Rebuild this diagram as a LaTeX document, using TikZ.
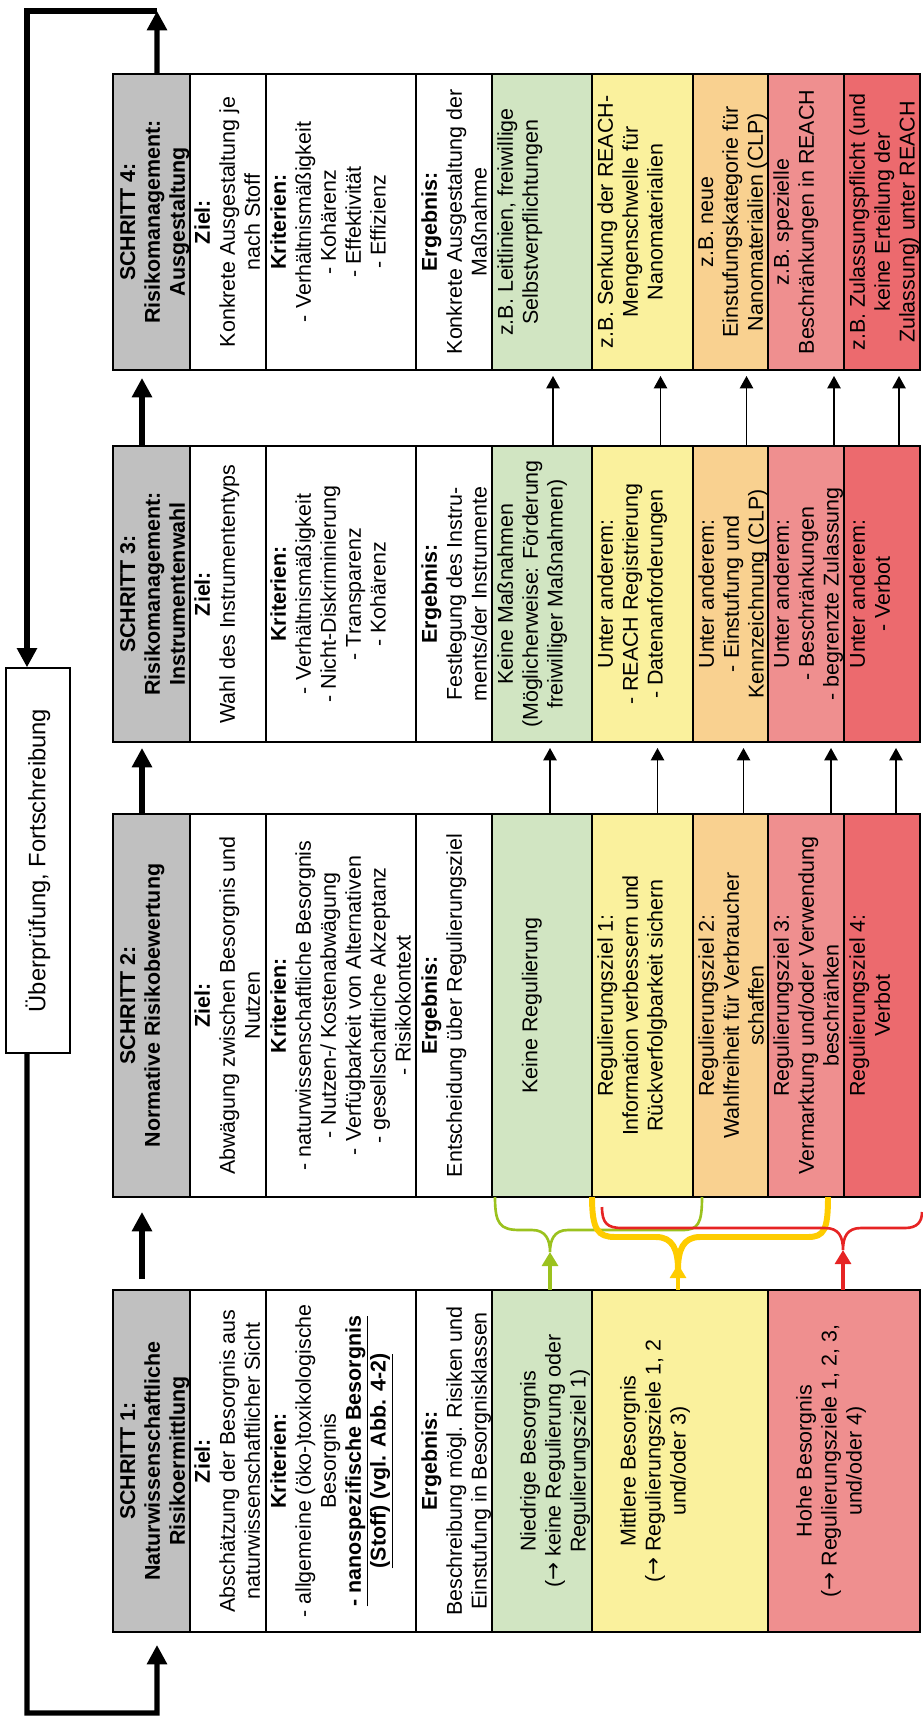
\documentclass[tikz,border=0pt]{standalone}
\usepackage{fontspec}
\setmainfont{Liberation Sans}
\newfontfamily\arrowfont{DejaVu Sans}
\usepackage{xcolor}
\usepackage{tikz}
\usetikzlibrary{calc, arrows.meta, positioning}

\definecolor{hdrgray}{RGB}{192,192,192}
\definecolor{lvgreen}{RGB}{209,229,194}
\definecolor{lvyellow}{RGB}{250,241,157}
\definecolor{lvorange}{RGB}{249,209,144}
\definecolor{lvpink}{RGB}{239,143,143}
\definecolor{lvred}{RGB}{236,106,110}
\definecolor{brgreen}{RGB}{155,194,30}
\definecolor{bryellow}{RGB}{254,204,0}
\definecolor{brred}{RGB}{230,36,36}

\begin{document}
\begin{tikzpicture}[
            x=0.02cm, y=-0.02cm,
            font=\fontsize{12.2}{14.2}\selectfont,
            cell/.style n args={3}{draw, line width=1pt, rotate=90, inner sep=0pt, outer sep=0pt,
                minimum width=#1, minimum height=#2,
                execute at begin node={\begin{minipage}[c][#2][t]{#1}\centering\vspace*{#3}},
                execute at end node={\end{minipage}}},
            headbox/.style={cell={#1}{1.54cm}{4pt}, fill=hdrgray, font=\fontsize{12.2}{14.2}\selectfont\bfseries},
            zielbox/.style={cell={#1}{1.52cm}{2.5pt}, fill=white},
            kritbox/.style={cell={#1}{3cm}{2.5pt}, fill=white},
            ergbox/.style={cell={#1}{1.52cm}{3pt}, fill=white},
            greenbox/.style={cell={#1}{2cm}{3pt}, fill=lvgreen},
            yellowbox/.style={cell={#1}{2.02cm}{3pt}, fill=lvyellow},
            orangebox/.style={cell={#1}{1.5cm}{3pt}, fill=lvorange},
            pinkbox/.style={cell={#1}{1.52cm}{3pt}, fill=lvpink},
            redbox/.style={cell={#1}{1.52cm}{3pt}, fill=lvred},
            revbox/.style={draw, line width=0.8pt, fill=white, rotate=90, inner sep=0pt,
                minimum width=7.7cm, minimum height=1.28cm, font=\fontsize{13.5}{16}\selectfont},
            bigarrow/.style={line width=3pt, -{Triangle[length=11pt, width=11pt]}},
            thinarrow/.style={line width=1pt, -{Triangle[length=7pt, width=7.5pt]}},
            brace/.style={line width=1.5pt},
            bracearrow/.style={line width=2.8pt, -{Triangle[length=8pt, width=9pt]}}
        ]
        \useasboundingbox (0,0) rectangle (922,1719);

        % Schritt 4
        \node[headbox=5.92cm] (s4h) at (151.5, 222) {SCHRITT 4:\\Risikomanagement:\\Ausgestaltung};
        \node[zielbox=5.92cm] (s4z) at (228, 222) {\textbf{Ziel:}\\Konkrete Ausgestaltung je\\nach Stoff};
        \node[kritbox=5.92cm] (s4k) at (341, 222) {\textbf{Kriterien:}\\- Verhältnismäßigkeit\\- Kohärenz\\- Effektivität\\- Effizienz};
        \node[ergbox=5.92cm] (s4e) at (454, 222) {\textbf{Ergebnis:}\\Konkrete Ausgestaltung der\\Maßnahme};
        \node[greenbox=5.92cm] (s4g) at (542, 222) {z.B. Leitlinien, freiwillige\\Selbstverpflichtungen};
        \node[yellowbox=5.92cm] (s4y) at (642.5, 222) {z.B. Senkung der REACH-\\Mengenschwelle für\\Nanomaterialien};
        \node[orangebox=5.92cm] (s4o) at (730.5, 222) {z.B. neue\\Einstufungskategorie für\\Nanomaterialien (CLP)};
        \node[pinkbox=5.92cm] (s4p) at (806, 222) {z.B. spezielle\\Beschränkungen in REACH};
        \node[redbox=5.92cm] (s4r) at (882, 222) {z.B. Zulassungspflicht (und\\keine Erteilung der\\Zulassung) unter REACH};

        % Schritt 3
        \node[headbox=5.92cm] (s3h) at (151.5, 594) {SCHRITT 3:\\Risikomanagement:\\Instrumentenwahl};
        \node[zielbox=5.92cm] (s3z) at (228, 594) {\textbf{Ziel:}\\Wahl des Instrumententyps};
        \node[kritbox=5.92cm] (s3k) at (341, 594) {\textbf{Kriterien:}\\- Verhältnismäßigkeit\\- Nicht-Diskriminierung\\- Transparenz\\- Kohärenz};
        \node[ergbox=5.92cm] (s3e) at (454, 594) {\textbf{Ergebnis:}\\Festlegung des Instru-\\ments/der Instrumente};
        \node[greenbox=5.92cm] (s3g) at (542, 594) {Keine Maßnahmen\\(Möglicherweise: Förderung\\freiwilliger Maßnahmen)};
        \node[yellowbox=5.92cm] (s3y) at (642.5, 594) {Unter anderem:\\- REACH Registrierung\\- Datenanforderungen};
        \node[orangebox=5.92cm] (s3o) at (730.5, 594) {Unter anderem:\\- Einstufung und\\Kennzeichnung (CLP)};
        \node[pinkbox=5.92cm] (s3p) at (806, 594) {Unter anderem:\\- Beschränkungen\\- begrenzte Zulassung};
        \node[redbox=5.92cm] (s3r) at (882, 594) {Unter anderem:\\- Verbot};

        % Schritt 2
        \node[headbox=7.66cm] (s2h) at (151.5, 1005.5) {SCHRITT 2:\\Normative Risikobewertung};
        \node[zielbox=7.66cm] (s2z) at (228, 1005.5) {\textbf{Ziel:}\\Abwägung zwischen Besorgnis und\\Nutzen};
        \node[kritbox=7.66cm] (s2k) at (341, 1005.5) {\textbf{Kriterien:}\\- naturwissenschaftliche Besorgnis\\- Nutzen-/ Kostenabwägung\\- Verfügbarkeit von Alternativen\\- gesellschaftliche Akzeptanz\\- Risikokontext};
        \node[ergbox=7.66cm] (s2e) at (454, 1005.5) {\textbf{Ergebnis:}\\Entscheidung über Regulierungsziel};
        \node[cell={7.66cm}{2cm}{17pt}, fill=lvgreen] (s2g) at (542, 1005.5) {Keine Regulierung};
        \node[yellowbox=7.66cm] (s2y) at (642.5, 1005.5) {Regulierungsziel 1:\\Information verbessern und\\Rückverfolgbarkeit sichern};
        \node[orangebox=7.66cm] (s2o) at (730.5, 1005.5) {Regulierungsziel 2:\\Wahlfreiheit für Verbraucher\\schaffen};
        \node[pinkbox=7.66cm] (s2p) at (806, 1005.5) {Regulierungsziel 3:\\Vermarktung und/oder Verwendung\\beschränken};
        \node[redbox=7.66cm] (s2r) at (882, 1005.5) {Regulierungsziel 4:\\Verbot};

        % Schritt 1
        \node[headbox=6.84cm] (s1h) at (151.5, 1461) {SCHRITT 1:\\Naturwissenschaftliche\\Risikoermittlung};
        \node[zielbox=6.84cm] (s1z) at (228, 1461) {\textbf{Ziel:}\\Abschätzung der Besorgnis aus\\naturwissenschaftlicher Sicht};
        \node[kritbox=6.84cm] (s1k) at (341, 1461) {\textbf{Kriterien:}\\- allgemeine (öko-)toxikologische\\Besorgnis\\\textbf{\underline{- nanospezifische Besorgnis}}\\\textbf{\underline{(Stoff) (vgl. Abb. 4-2)}}};
        \node[ergbox=6.84cm] (s1e) at (454, 1461) {\textbf{Ergebnis:}\\Beschreibung mögl. Risiken und\\Einstufung in Besorgnisklassen};
        \node[cell={6.84cm}{2cm}{16pt}, fill=lvgreen] (s1g) at (542, 1461) {Niedrige Besorgnis\\({\arrowfont →} keine Regulierung oder\\Regulierungsziel 1)};
        \node[cell={6.84cm}{3.52cm}{16pt}, fill=lvyellow] (s1y) at (680, 1461) {Mittlere Besorgnis\\({\arrowfont →} Regulierungsziele 1, 2\\und/oder 3)};
        \node[cell={6.84cm}{3.04cm}{16pt}, fill=lvpink] (s1p) at (844, 1461) {Hohe Besorgnis\\({\arrowfont →} Regulierungsziele 1, 2, 3,\\und/oder 4)};

        % Rueckkopplung
        \node[revbox] (rev) at (38, 860.5) {Überprüfung, Fortschreibung};
        \coordinate (looptr) at (157, 11);
        \coordinate (looptl) at (27, 11);
        \coordinate (loopbl) at (27, 1713);
        \coordinate (loopbr) at (157, 1713);

        \draw[bigarrow] ([xshift=0.11cm]s4h.east) -- (looptr);
        \draw[bigarrow] (looptr) -- (looptl) -- (looptl |- rev.east);
        \draw[bigarrow, shorten >=0.26cm] (rev.west -| looptl) -- (loopbl) -- (loopbr) -- ([xshift=0.11cm]s1h.west);

        % Schritte
        \draw[bigarrow, shorten <=0.22cm, shorten >=0.3cm] ([xshift=-0.19cm]s1h.east) -- ([xshift=-0.19cm]s2h.west);
        \draw[bigarrow, shorten >=0.12cm] ([xshift=-0.19cm]s2h.east) -- ([xshift=-0.19cm]s3h.west);
        \draw[bigarrow, shorten >=0.16cm] ([xshift=-0.19cm]s3h.east) -- ([xshift=-0.19cm]s4h.west);

        % Instrumente -> Ausgestaltung
        \draw[thinarrow, shorten >=0.12cm] ($(s3g.east)+(11,0)$) -- ($(s4g.west)+(11,0)$);
        \draw[thinarrow, shorten >=0.12cm] ($(s3y.east)+(18,0)$) -- ($(s4y.west)+(18,0)$);
        \draw[thinarrow, shorten >=0.12cm] ($(s3o.east)+(16,0)$) -- ($(s4o.west)+(16,0)$);
        \draw[thinarrow, shorten >=0.12cm] ($(s3p.east)+(28,0)$) -- ($(s4p.west)+(28,0)$);
        \draw[thinarrow, shorten >=0.12cm] ($(s3r.east)+(17,0)$) -- ($(s4r.west)+(17,0)$);

        % Regulierungsziel -> Instrumente
        \draw[thinarrow, shorten >=0.12cm] ($(s2g.east)+(8,0)$) -- ($(s3g.west)+(8,0)$);
        \draw[thinarrow, shorten >=0.12cm] ($(s2y.east)+(15,0)$) -- ($(s3y.west)+(15,0)$);
        \draw[thinarrow, shorten >=0.12cm] ($(s2o.east)+(13,0)$) -- ($(s3o.west)+(13,0)$);
        \draw[thinarrow, shorten >=0.12cm] ($(s2p.east)+(25,0)$) -- ($(s3p.west)+(25,0)$);
        \draw[thinarrow, shorten >=0.12cm] ($(s2r.east)+(14,0)$) -- ($(s3r.west)+(14,0)$);

        % Klammern
        \coordinate (gtip) at (550, 1252);
        \coordinate (ytip) at (678, 1264);
        \coordinate (rtip) at (843, 1250);

        \draw[brace, brgreen] (495,1197) .. controls (495,1224) and (500,1230) .. (520,1230) -- (532,1230)
            .. controls (546,1230) and (550,1240) .. (gtip) .. controls (550,1240) and (554,1230) .. (568,1230)
            -- (682,1230) .. controls (698,1230) and (702,1224) .. (702,1197);
        \draw[brace, bryellow, line width=3.4pt] (592,1197) .. controls (592,1230) and (598,1237) .. (615,1237) -- (656,1237)
            .. controls (673,1237) and (678,1250) .. (678,1270) .. controls (678,1250) and (683,1237) .. (700,1237)
            -- (808,1237) .. controls (824,1237) and (828,1230) .. (828,1197);
        \draw[brace, brred] (602,1207) .. controls (602,1223) and (607,1228) .. (622,1228) -- (825,1228)
            .. controls (839,1228) and (843,1237) .. (rtip) .. controls (843,1237) and (847,1228) .. (861,1228)
            -- (905,1228) .. controls (917,1228) and (922,1222) .. (922,1212);

        \draw[bracearrow, brgreen] ($(s1g.east)+(8,0)$) -- (gtip);
        \draw[bracearrow, bryellow] ($(s1y.east)+(-2,0)$) -- (ytip);
        \draw[bracearrow, brred] ($(s1p.east)+(-1,0)$) -- (rtip);

    \end{tikzpicture}
\end{document}
